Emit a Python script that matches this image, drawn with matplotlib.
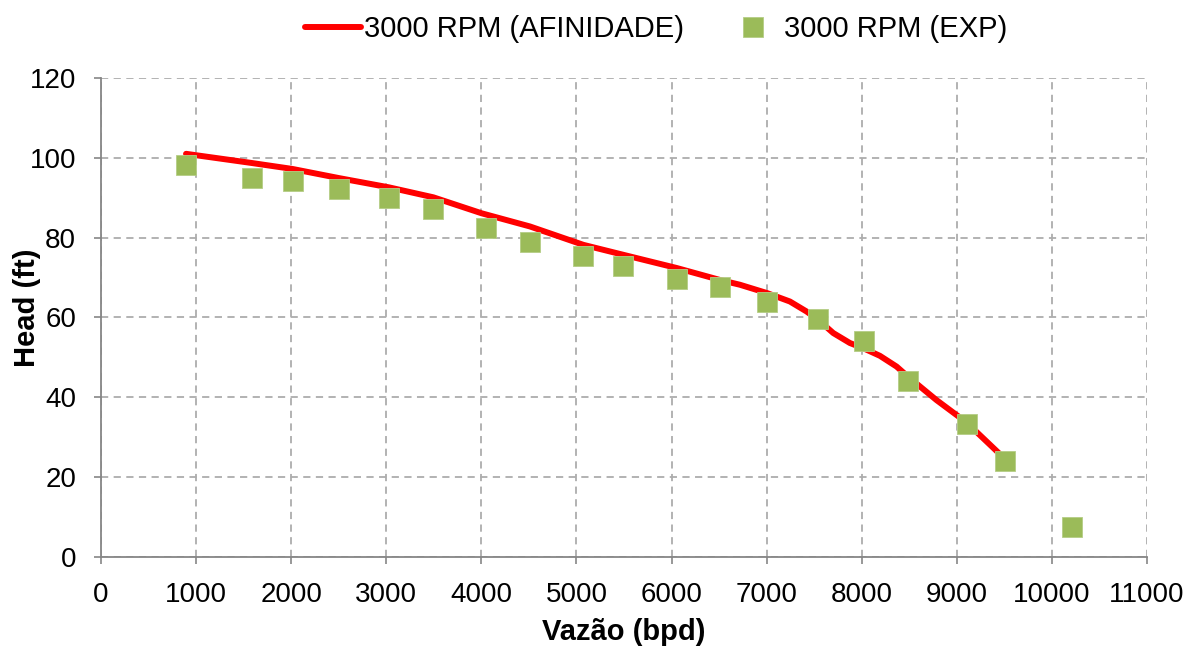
import matplotlib
matplotlib.use('Agg')
import matplotlib.pyplot as plt

plt.rcParams['font.family'] = ['Liberation Sans', 'DejaVu Sans']

# curva pelas leis de afinidade (3000 RPM)
vazao_afin = [894, 1585, 2015, 2506, 3028, 3495, 4003, 4511, 5072, 5493,
              6053, 6509, 6719, 7006, 7245, 7420, 7543, 7701, 7876, 8016,
              8191, 8367, 8486, 8787, 9103, 9509]
head_afin = [101.0, 98.7, 97.2, 94.9, 92.6, 90.1, 86.1, 82.8, 78.2, 75.7,
             72.4, 69.4, 68.2, 66.1, 64.0, 61.5, 59.4, 56.1, 53.6, 52.3,
             50.4, 47.7, 45.2, 39.3, 33.7, 24.5]

# pontos experimentais (3000 RPM)
vazao_exp = [894, 1585, 2015, 2506, 3028, 3495, 4045, 4511, 5072, 5493,
             6053, 6509, 7006, 7536, 8023, 8486, 9103, 9509, 10213]
head_exp = [98.3, 94.9, 94.1, 92.3, 90.0, 87.1, 82.4, 78.9, 75.3, 73.0,
            69.7, 67.7, 63.8, 59.6, 54.0, 44.1, 33.3, 24.1, 7.5]

xticks = list(range(0, 11001, 1000))
yticks = list(range(0, 121, 20))

fig = plt.figure(figsize=(12, 6.46), dpi=100)
ax = fig.add_axes([0.0842, 0.1378, 0.8716, 0.7415])

ax.plot(vazao_afin, head_afin, color='#FF0000', lw=4.3,
        solid_capstyle='round', solid_joinstyle='round',
        label='3000 RPM (AFINIDADE)', zorder=3)
ax.plot(vazao_exp, head_exp, ls='none', marker='s', ms=14.4,
        color='#9BBB59', mec='#B5CD85', mew=0.6,
        label='3000 RPM (EXP)', zorder=4)

ax.set_xlim(0, 11000)
ax.set_ylim(0, 120)
ax.set_xticks(xticks)
ax.set_yticks(yticks)
ax.tick_params(labelsize=20, colors='#868686', labelcolor='black',
               length=5, width=1.2)
ax.tick_params(axis='x', pad=13)
ax.tick_params(axis='y', pad=13)

ax.grid(True, color='#ADADAD', ls=(0, (4, 3)), lw=1.3)
ax.set_axisbelow(True)
for s in ['top', 'right']:
    ax.spines[s].set_visible(False)
for s in ['left', 'bottom']:
    ax.spines[s].set_color('#868686')
    ax.spines[s].set_linewidth(1.3)

ax.set_xlabel('Vazão (bpd)', fontsize=21, fontweight='bold', labelpad=7)
ax.set_ylabel('Head (ft)', fontsize=21, fontweight='bold')
ax.yaxis.set_label_coords(-0.057, 0.52)

fig.legend(loc='center', bbox_to_anchor=(0.547, 0.955), ncol=2,
           frameon=False, fontsize=21, handlelength=1.9,
           handletextpad=0.12, columnspacing=1.4)

fig.savefig('out.png', dpi=100)
